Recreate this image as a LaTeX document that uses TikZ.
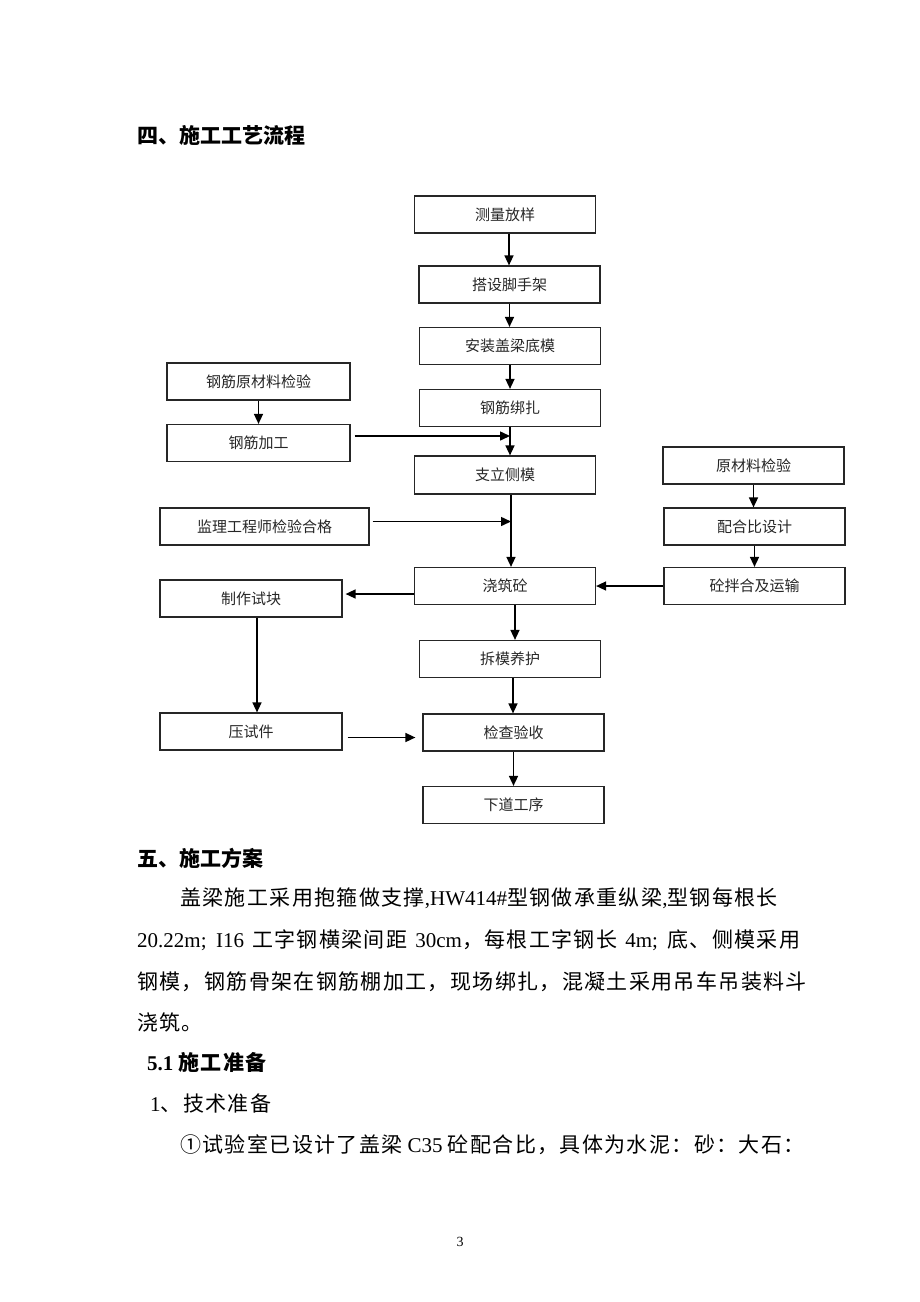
\documentclass[tikz,border=0pt]{standalone}
\usepackage{fontspec}
\setmainfont{Liberation Serif}
\newfontfamily\cjk{Noto Sans CJK SC}
\newfontfamily\cjkbody{Noto Sans CJK SC}[LetterSpace=6.5]
\usetikzlibrary{arrows.meta}

\begin{document}
\begin{tikzpicture}[x=1pt,y=-1pt,
  box/.style={draw=black!85,line width=1.2pt,inner sep=0pt,minimum width=181pt,minimum height=37pt,font=\cjk\fontsize{15}{15}\selectfont,text=black!85},
  arr/.style={line width=1.5pt,-{Triangle[length=10pt,width=9pt]}},
  bodyline/.style={anchor=west,inner sep=0pt,font=\fontsize{21}{21}\selectfont},
  headline/.style={anchor=west,inner sep=0pt,font=\bfseries\fontsize{21}{21}\selectfont}]
\useasboundingbox (0,0) rectangle (920,1302);
\node[headline] (h4) at (137,135) {\cjk 四、施工工艺流程};
\node[box] (celiang) at (505,214.5) {测量放样};
\node[box] (dajia) at (509.5,284.5) {搭设脚手架};
\node[box] (dimo) at (510,346) {安装盖梁底模};
\node[box] (bangza) at (510,408) {钢筋绑扎};
\node[box,minimum height=38pt] (cemo) at (505,475) {支立侧模};
\node[box] (jiaozhu) at (505,586) {浇筑砼};
\node[box] (yanghu) at (510,659) {拆模养护};
\node[box] (yanshou) at (513.5,732.5) {检查验收};
\node[box] (xiadao) at (513.5,805) {下道工序};
\node[box,minimum width=183pt] (gjjianyan) at (258.5,381.5) {钢筋原材料检验};
\node[box,minimum width=183pt] (gjjiagong) at (258.5,443) {钢筋加工};
\node[box,minimum width=209pt] (jianli) at (264.5,526.5) {监理工程师检验合格};
\node[box,minimum width=182pt] (shikuai) at (251,598.5) {制作试块};
\node[box,minimum width=182pt] (yashijian) at (251,731.5) {压试件};
\node[box] (ycljianyan) at (753.5,465.5) {原材料检验};
\node[box] (peihebi) at (754.5,526.5) {配合比设计};
\node[box] (banhe) at (754.5,586) {砼拌合及运输};
\coordinate (gjline) at ([yshift=7pt]gjjiagong.east);
\coordinate (jlline) at ([yshift=5pt]jianli.east);
\coordinate (axis) at ([xshift=6pt]cemo.south);
\coordinate (sklline) at ([yshift=-8pt]jiaozhu.west);
\coordinate (yslline) at ([yshift=-6pt]yashijian.east);
\draw[arr] ([xshift=4pt]celiang.south) -- ([xshift=4pt]celiang.south |- dajia.north);
\draw[arr] (dajia.south) -- (dajia.south |- dimo.north);
\draw[arr] (dimo.south) -- (dimo.south |- bangza.north);
\draw[arr] (bangza.south) -- (bangza.south |- cemo.north);
\draw[arr] ([xshift=4pt]gjline) -- (gjline -| bangza.south);
\draw[arr] (axis) -- (axis |- jiaozhu.north);
\draw[arr] ([xshift=3pt]jlline) -- (jlline -| axis);
\draw[arr] (banhe.west) -- (banhe.west -| jiaozhu.east);
\draw[arr] (sklline) -- ([xshift=3pt]sklline -| shikuai.east);
\draw[arr] ([xshift=10pt]jiaozhu.south) -- ([xshift=10pt]jiaozhu.south |- yanghu.north);
\draw[arr] ([xshift=3pt]yanghu.south) -- ([xshift=3pt]yanghu.south |- yanshou.north);
\draw[arr] (yanshou.south) -- (yanshou.south |- xiadao.north);
\draw[arr] ([xshift=6pt]shikuai.south) -- ([xshift=6pt]shikuai.south |- yashijian.north);
\draw[arr] ([xshift=5pt]yslline) -- ([xshift=-7pt]yslline -| yanshou.west);
\draw[arr] (gjjianyan.south) -- (gjjianyan.south |- gjjiagong.north);
\draw[arr] (ycljianyan.south) -- (ycljianyan.south |- peihebi.north);
\draw[arr] (peihebi.south) -- (peihebi.south |- banhe.north);
\node[headline] (h5) at (137,858) {\cjk 五、施工方案};
\node[bodyline] (p1) at (180,898) {{\cjkbody 盖梁施工采用抱箍做支撑},HW414\#{\cjkbody 型钢做承重纵梁},{\cjkbody 型钢每根长}};
\node[bodyline] (p2) at (137,940) {\makebox[663pt][s]{20.22m; I16 {\cjkbody 工字钢横梁间距} 30cm{\cjkbody ，每根工字钢长} 4m; {\cjkbody 底、侧模采用}}};
\node[bodyline] (p3) at (137,982) {\cjkbody 钢模，钢筋骨架在钢筋棚加工，现场绑扎，混凝土采用吊车吊装料斗};
\node[bodyline] (p4) at (137,1022) {\cjkbody 浇筑。};
\node[headline] (h51) at (147,1062) {5.1\hspace{5pt}{\cjkbody 施工准备}};
\node[bodyline] (p5) at (150,1103) {1{\cjkbody 、技术准备}};
\node[bodyline] (p6) at (180,1145) {{\cjkbody ①试验室已设计了盖梁} C35 {\cjkbody 砼配合比，具体为水泥：砂：大石：}};
\node[inner sep=0pt,font=\fontsize{14}{14}\selectfont] (pagenum) at (460,1242) {3};
\end{tikzpicture}
\end{document}
